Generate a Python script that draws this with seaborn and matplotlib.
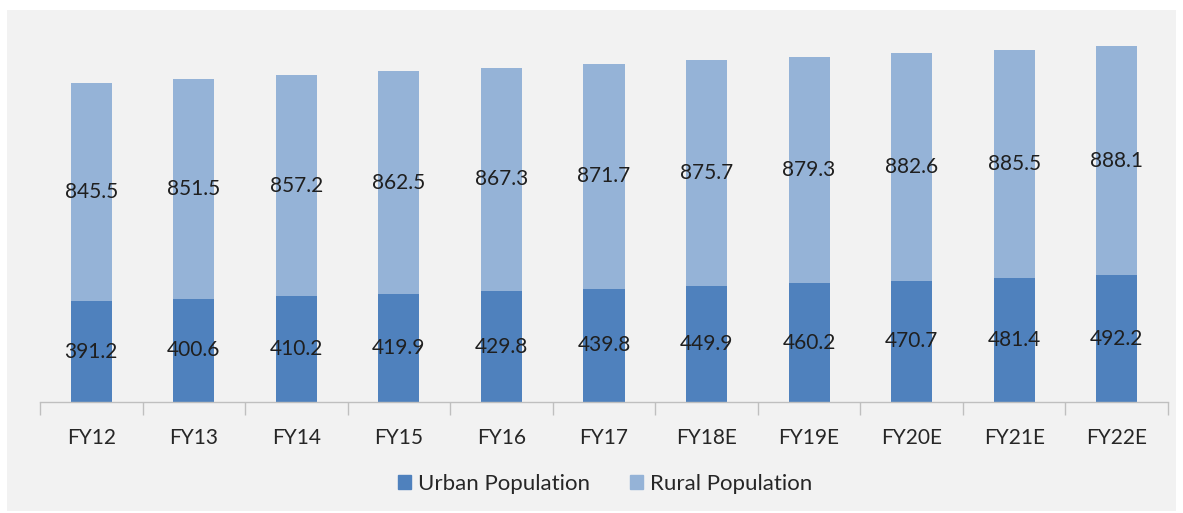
import matplotlib
matplotlib.use("Agg")
import matplotlib.pyplot as plt
import seaborn as sns
import pandas as pd
from matplotlib.patches import Rectangle, Patch

years = ["FY12", "FY13", "FY14", "FY15", "FY16", "FY17",
         "FY18E", "FY19E", "FY20E", "FY21E", "FY22E"]
urban = [391.2, 400.6, 410.2, 419.9, 429.8, 439.8, 449.9, 460.2, 470.7, 481.4, 492.2]
rural = [845.5, 851.5, 857.2, 862.5, 867.3, 871.7, 875.7, 879.3, 882.6, 885.5, 888.1]

URBAN_C = "#4F81BD"
RURAL_C = "#95B3D7"
BG = "#F2F2F2"

df = pd.DataFrame({"year": years, "urban": urban, "rural": rural})
df["total"] = df["urban"] + df["rural"]

sns.set_theme(style="white")
plt.rcParams["font.family"] = ["Lato", "DejaVu Sans"]

fig = plt.figure(figsize=(11.83, 5.13), dpi=100)
fig.patch.set_facecolor("white")
fig.patches.append(Rectangle((7 / 1183, 2 / 513), 1169 / 1183, 501 / 513,
                             transform=fig.transFigure, facecolor=BG,
                             edgecolor="none", zorder=-10))

ax = fig.add_axes([40 / 1183, 111 / 513, 1128 / 1183, 361 / 513])
ax.set_facecolor("none")

# total bar first (rural colour), urban drawn over it
sns.barplot(data=df, x="year", y="total", color=RURAL_C, width=0.4,
            saturation=1, ax=ax, edgecolor="none")
sns.barplot(data=df, x="year", y="urban", color=URBAN_C, width=0.4,
            saturation=1, ax=ax, edgecolor="none")

for i, (u, r) in enumerate(zip(urban, rural)):
    ax.text(i, u / 2, f"{u:.1f}", ha="center", va="center",
            fontsize=15, color="#1f1f1f")
    ax.text(i, u + r / 2, f"{r:.1f}", ha="center", va="center",
            fontsize=15, color="#1f1f1f")

ax.set_xlim(-0.5, len(years) - 0.5)
ax.set_ylim(0, 1400)
ax.set_xlabel("")
ax.set_ylabel("")
ax.set_yticks([])
for s in ["top", "right", "left"]:
    ax.spines[s].set_visible(False)
ax.spines["bottom"].set_color("#BFBFBF")
ax.spines["bottom"].set_linewidth(1)

ax.set_xticks(range(len(years)))
ax.set_xticklabels(years, fontsize=15, color="#262626")
ax.tick_params(axis="x", which="major", bottom=False, length=0, pad=19)
ax.set_xticks([i - 0.5 for i in range(len(years) + 1)], minor=True)
ax.tick_params(axis="x", which="minor", bottom=True, length=9, width=1,
               color="#BFBFBF", direction="out")

handles = [Patch(color=URBAN_C, label="Urban Population"),
           Patch(color=RURAL_C, label="Rural Population")]
fig.legend(handles=handles, loc="center", bbox_to_anchor=(605 / 1183, 1 - 484 / 513),
           ncol=2, frameon=False, fontsize=16, handlelength=0.6, handleheight=0.6,
           handletextpad=0.3, columnspacing=1.8, labelcolor="#262626")

fig.savefig("out.png", dpi=100, facecolor=fig.get_facecolor())
